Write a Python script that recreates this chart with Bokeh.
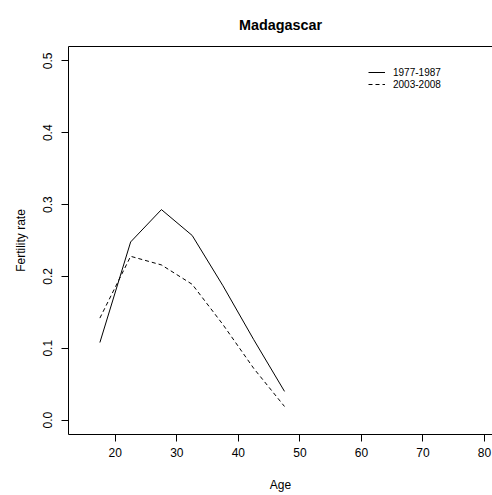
from bokeh.plotting import figure
from bokeh.models import (Range1d, FixedTicker, PrintfTickFormatter, Legend,
                          LegendItem, LinearAxis)
from bokeh.embed import file_html
from bokeh.resources import INLINE

# Age-specific fertility rates, Madagascar (5-year age groups, midpoints)
age = [17.5, 22.5, 27.5, 32.5, 37.5, 42.5, 47.5]
rate_1977_1987 = [0.108, 0.248, 0.293, 0.257, 0.187, 0.112, 0.040]
rate_2003_2008 = [0.142, 0.228, 0.216, 0.189, 0.133, 0.072, 0.019]
period_labels = ["1977-1987", "2003-2008"]

x_ticks = [20, 30, 40, 50, 60, 70, 80]
y_ticks = [0.0, 0.1, 0.2, 0.3, 0.4, 0.5]

FONT = "Liberation Sans"

p = figure(width=492, height=495, output_backend="svg", toolbar_location=None,
           x_range=Range1d(12.4, 81.3), y_range=Range1d(-0.02, 0.52),
           min_border_left=68, min_border_right=0,
           min_border_top=45, min_border_bottom=61)

p.background_fill_color = "white"
p.border_fill_color = "white"
p.outline_line_color = None
p.xgrid.visible = False
p.ygrid.visible = False

p.title.text = "Madagascar"
p.title.text_font = FONT
p.title.text_font_size = "14.4px"
p.title.text_font_style = "bold"
p.title.text_color = "black"
p.title.text_line_height = 0.6
p.title.align = "center"
p.title.offset = 3
p.title.standoff = 28

def style_axis(ax):
    ax.axis_line_color = "black"
    ax.axis_line_width = 1
    ax.major_tick_line_color = "black"
    ax.major_tick_out = 7
    ax.major_tick_in = 0
    ax.minor_tick_line_color = None
    ax.major_label_text_font = FONT
    ax.major_label_text_font_size = "12px"
    ax.major_label_text_color = "black"
    ax.axis_label_text_font = FONT
    ax.axis_label_text_font_size = "12px"
    ax.axis_label_text_font_style = "normal"
    ax.axis_label_text_color = "black"

xa = p.xaxis[0]
style_axis(xa)
xa.ticker = FixedTicker(ticks=x_ticks)
xa.axis_label = "Age"
xa.major_label_standoff = 6
xa.axis_label_standoff = 18

ya = p.yaxis[0]
style_axis(ya)
ya.ticker = FixedTicker(ticks=y_ticks)
ya.formatter = PrintfTickFormatter(format="%.1f")
ya.major_label_orientation = "vertical"
ya.axis_label = "Fertility rate"
ya.major_label_standoff = 9
ya.axis_label_standoff = 13

# top edge of the plot box
top = LinearAxis(ticker=FixedTicker(ticks=[]), axis_line_color="black",
                 major_tick_line_color=None, minor_tick_line_color=None,
                 major_tick_out=0, major_tick_in=0,
                 minor_tick_out=0, minor_tick_in=0,
                 major_label_text_font_size="0px", major_label_standoff=0,
                 axis_label=None)
p.add_layout(top, "above")

r1 = p.line(age, rate_1977_1987, line_color="black", line_width=1)
r2 = p.line(age, rate_2003_2008, line_color="black", line_width=1,
            line_dash="4 3")

legend = Legend(items=[LegendItem(label=period_labels[0], renderers=[r1]),
                       LegendItem(label=period_labels[1], renderers=[r2])],
                location=(300, 389 - 21 - 24),
                border_line_color=None, background_fill_alpha=0,
                label_text_font=FONT, label_text_font_size="10px",
                label_text_color="black",
                glyph_width=17, glyph_height=12, label_height=12,
                spacing=0, padding=0, margin=0, label_standoff=8)
p.add_layout(legend)

open("out.html", "w").write(file_html(p, INLINE))
